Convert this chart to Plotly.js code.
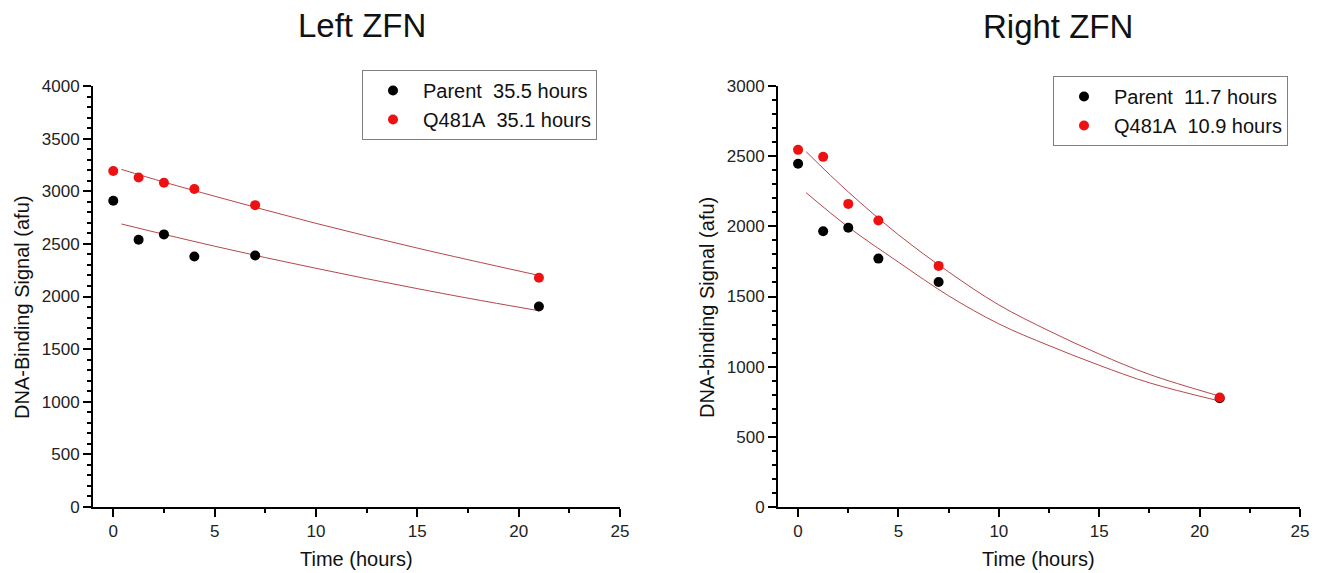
<!DOCTYPE html>
<html>
<head>
<meta charset="utf-8">
<script src="https://cdn.plot.ly/plotly-3.0.1.min.js"></script>
<style>html,body{margin:0;padding:0;background:#fff;}#chart{width:1317px;height:573px;}</style>
</head>
<body>
<div id="chart"></div>
<script>
// Measurement times (hours)
const time = [0, 1.25, 2.5, 4, 7, 21];
// Left ZFN
const leftParent = [2910, 2540, 2590, 2380, 2390, 1905];
const leftQ481A  = [3192, 3130, 3080, 3022, 2868, 2178];
// Right ZFN
const rightParent = [2446, 1965, 1990, 1770, 1603, 775];
const rightQ481A  = [2545, 2495, 2160, 2042, 1718, 780];
// Fitted decay curves
const fitTime = [0.4, 2.5, 5, 7.5, 10, 12.5, 15, 17.5, 21];
const leftParentFit  = [2689, 2591, 2478, 2370, 2268, 2169, 2075, 1984, 1865];
const leftQ481AFit   = [3208, 3087, 2953, 2822, 2695, 2575, 2460, 2350, 2200];
const rightParentFit = [2240, 1995, 1745, 1505, 1305, 1150, 1010, 885, 755];
const rightQ481AFit  = [2532, 2245, 1940, 1675, 1440, 1255, 1090, 945, 790];
// Legend labels
const leftNames  = ['Parent\u00a0 35.5 hours', 'Q481A\u00a0 35.1 hours'];
const rightNames = ['Parent\u00a0 11.7 hours', 'Q481A\u00a0 10.9 hours'];

const RED = '#ee1111';
const FIT = '#b5474b';
const W = 1317, H = 573;
const px = v => v / W;
const py = v => 1 - v / H;

function pts(x, y, name, color, xa, ya, leg) {
  return {x, y, name, type: 'scatter', mode: 'markers', xaxis: xa, yaxis: ya, legend: leg,
    marker: {color, size: 10, symbol: 'circle'}};
}
function fit(x, y, xa, ya) {
  return {x, y, type: 'scatter', mode: 'lines', xaxis: xa, yaxis: ya, showlegend: false,
    line: {color: FIT, width: 1, shape: 'spline'}, hoverinfo: 'skip'};
}

const data = [
  fit(fitTime, leftParentFit, 'x', 'y'),
  fit(fitTime, leftQ481AFit, 'x', 'y'),
  pts(time, leftParent, leftNames[0], '#000', 'x', 'y', 'legend'),
  pts(time, leftQ481A, leftNames[1], RED, 'x', 'y', 'legend'),
  fit(fitTime, rightParentFit, 'x2', 'y2'),
  fit(fitTime, rightQ481AFit, 'x2', 'y2'),
  pts(time, rightParent, rightNames[0], '#000', 'x2', 'y2', 'legend2'),
  pts(time, rightQ481A, rightNames[1], RED, 'x2', 'y2', 'legend2')
];

const tickFont = {family: 'Liberation Sans, Arial, sans-serif', size: 17, color: '#222'};
function xax(domain, anchor) {
  return {domain, anchor, range: [-1, 25], dtick: 5, tick0: 0, showgrid: false, zeroline: false,
    showline: true, linecolor: '#000', linewidth: 2, ticks: 'outside', ticklen: 8, tickwidth: 2,
    tickcolor: '#000', tickfont: tickFont, fixedrange: true,
    minor: {dtick: 2.5, tick0: 0, ticks: 'outside', ticklen: 4, tickwidth: 2, tickcolor: '#000', showgrid: false}};
}
function yax(domain, anchor, max) {
  return {domain, anchor, range: [0, max], dtick: 500, tick0: 0, showgrid: false, zeroline: false,
    showline: true, linecolor: '#000', linewidth: 2, ticks: 'outside', ticklen: 8, tickwidth: 2,
    tickcolor: '#000', tickfont: tickFont, fixedrange: true,
    minor: {dtick: 100, tick0: 0, ticks: 'outside', ticklen: 4, tickwidth: 2, tickcolor: '#000', showgrid: false}};
}

const font = 'Liberation Sans, Arial, sans-serif';
function ann(text, x, y, size, angle) {
  return {text, x: px(x), y: py(y), xref: 'paper', yref: 'paper', xanchor: 'center', yanchor: 'middle',
    showarrow: false, textangle: angle || 0, font: {family: font, size, color: '#111'}};
}
const legendBase = {bgcolor: '#fff', bordercolor: '#808080', borderwidth: 1,
  font: {family: font, size: 20, color: '#111'}, xanchor: 'right', yanchor: 'top', itemwidth: 50, tracegroupgap: 0};

const layout = {
  width: W, height: H, margin: {l: 0, r: 0, t: 0, b: 0},
  paper_bgcolor: '#fff', plot_bgcolor: '#fff', showlegend: true,
  xaxis: xax([px(93), px(620)], 'y'),
  yaxis: yax([py(507), py(86)], 'x', 4000),
  xaxis2: xax([px(778), px(1300)], 'y2'),
  yaxis2: yax([py(507), py(86)], 'x2', 3000),
  legend: Object.assign({}, legendBase, {x: px(597), y: py(70)}),
  legend2: Object.assign({}, legendBase, {x: px(1288), y: py(76)}),
  annotations: [
    ann('Left ZFN', 362, 25.5, 33),
    ann('Right ZFN', 1058, 26, 33),
    ann('Time (hours)', 356, 559, 20),
    ann('Time (hours)', 1038, 559, 20),
    ann('DNA-Binding Signal (afu)', 22, 308, 20, -90),
    ann('DNA-binding Signal (afu)', 707, 308, 20, -90)
  ]
};

Plotly.newPlot('chart', data, layout, {displayModeBar: false, staticPlot: true});
</script>
</body>
</html>
